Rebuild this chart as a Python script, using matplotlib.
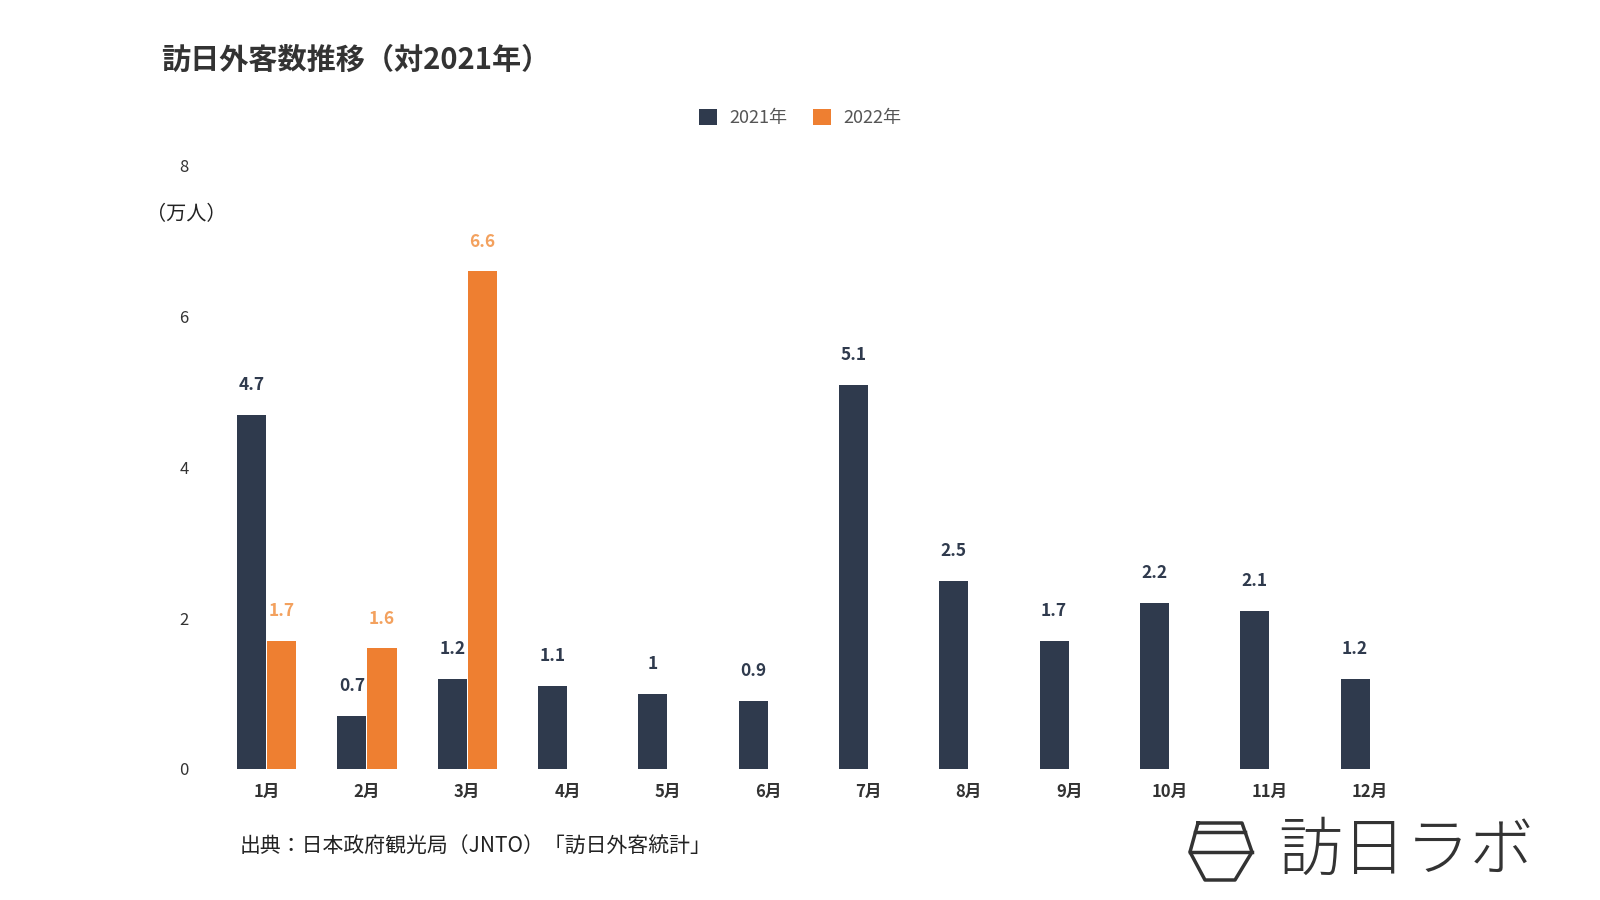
import numpy as np
from matplotlib import pyplot as plt
from matplotlib.lines import Line2D

plt.rcParams['font.family'] = ['Noto Sans CJK JP', 'DejaVu Sans']

months    = ['1月', '2月', '3月', '4月', '5月', '6月', '7月', '8月', '9月', '10月', '11月', '12月']
vals_2021 = [4.7, 0.7, 1.2, 1.1, 1, 0.9, 5.1, 2.5, 1.7, 2.2, 2.1, 1.2]
vals_2022 = [1.7, 1.6, 6.6]
yticks    = [0, 2, 4, 6, 8]

navy      = '#2f3a4d'
orange    = '#ee7f31'
orange_lb = '#f3a15e'

fig = plt.figure(figsize=(16, 9), dpi=100)
ax  = fig.add_axes([0.124, 0.1456, 0.775, 0.67])

x  = np.arange(len(months))
bw = 0.29
b1 = ax.bar(x - 0.15, vals_2021, bw, color=navy, label='2021年')
b2 = ax.bar(x[:len(vals_2022)] + 0.15, vals_2022, bw, color=orange, label='2022年')

for rect, v in zip(b1, vals_2021):
  ax.annotate(f'{v:g}', (rect.get_x() + rect.get_width() / 2, v), xytext=(0, 15),
              textcoords='offset points', ha='center', va='bottom',
              fontsize=12.5, fontweight='bold', color=navy)
for rect, v in zip(b2, vals_2022):
  ax.annotate(f'{v:g}', (rect.get_x() + rect.get_width() / 2, v), xytext=(0, 15),
              textcoords='offset points', ha='center', va='bottom',
              fontsize=12.5, fontweight='bold', color=orange_lb)

ax.set_xlim(-0.68, len(months) - 1 + 0.68)
ax.set_ylim(0, 8)
ax.set_xticks(x)
ax.set_xticklabels(months, fontsize=12, fontweight='bold', color='#333333')
ax.set_yticks(yticks)
ax.set_yticklabels([str(t) for t in yticks], fontsize=12, color='#333333')
ax.tick_params(axis='x', length=0, pad=10)
ax.tick_params(axis='y', length=0, pad=7)
for s in ax.spines.values():
  s.set_visible(False)

fig.text(0.091, 0.762, '（万人）', fontsize=14.5, color='#222222', ha='left', va='center')
fig.text(0.101, 0.934, '訪日外客数推移（対2021年）', fontsize=21, fontweight='bold',
         color='#333333', ha='left', va='center')

leg = fig.legend(handles=[b1, b2], loc='center', bbox_to_anchor=(0.5, 0.869), ncol=2,
                 frameon=False, fontsize=13, handlelength=1.0, handleheight=1.0,
                 columnspacing=1.4, handletextpad=0.7)
for t in leg.get_texts():
  t.set_color('#555555')

fig.text(0.15, 0.06, '出典：日本政府観光局（JNTO）「訪日外客統計」', fontsize=15,
         color='#222222', ha='left', va='center')

# logo
def px(xp, yp):
  return xp / 1600, 1 - yp / 900

hexa = [(1198, 823), (1242, 823), (1252, 852), (1235, 880), (1205, 880), (1190, 852), (1198, 823)]
pts  = [px(a, b) for a, b in hexa]
fig.add_artist(Line2D([p[0] for p in pts], [p[1] for p in pts], color='#333333', lw=2.5,
                      transform=fig.transFigure))
for ya, xl, xr in [(832, 1195, 1245), (852, 1190, 1252)]:
  p1, p2 = px(xl, ya), px(xr, ya)
  fig.add_artist(Line2D([p1[0], p2[0]], [p1[1], p2[1]], color='#333333', lw=2.5,
                        transform=fig.transFigure))
fig.text(1278 / 1600, 1 - 852 / 900, '訪日ラボ', fontsize=46, fontweight='light',
         color='#333333', ha='left', va='center')

fig.savefig('out.png', dpi=100)
